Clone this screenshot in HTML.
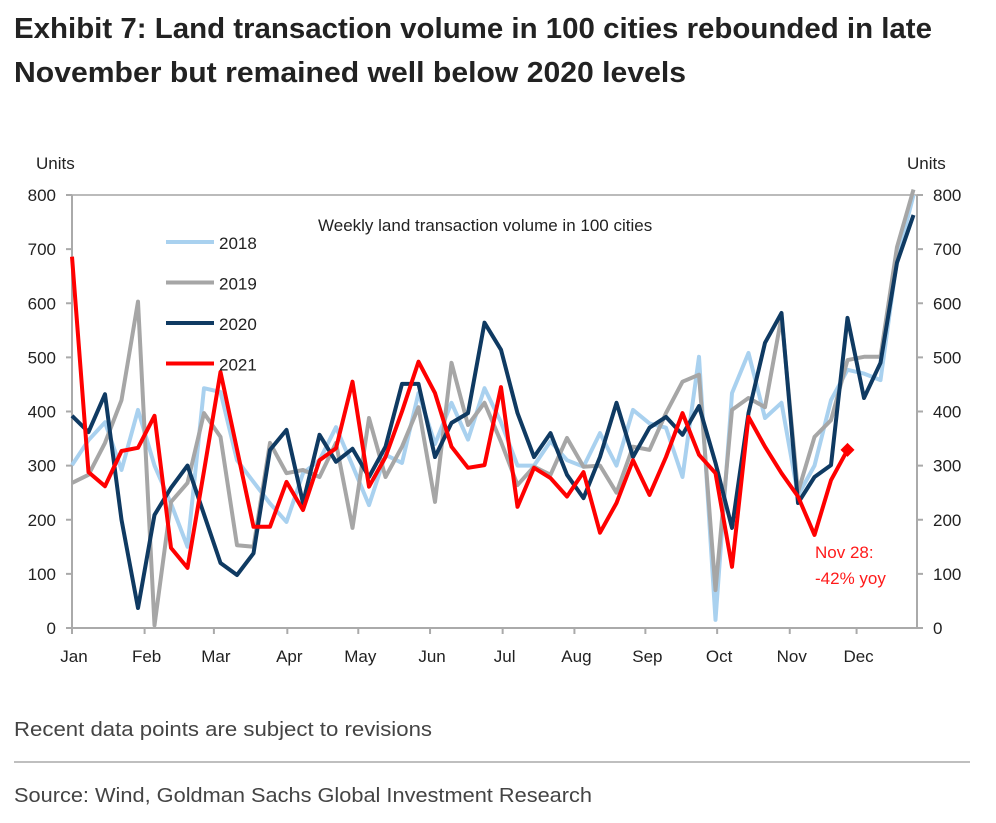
<!DOCTYPE html>
<html><head><meta charset="utf-8"><style>
html,body{margin:0;padding:0;background:#fff;}
svg{display:block;font-family:"Liberation Sans",sans-serif;}
</style></head><body>
<svg id="chart" width="996" height="823" viewBox="0 0 996 823">
<text x="14" y="38" font-size="29" font-weight="bold" fill="#222" textLength="918" lengthAdjust="spacingAndGlyphs">Exhibit 7: Land transaction volume in 100 cities rebounded in late</text>
<text x="14" y="82" font-size="29" font-weight="bold" fill="#222" textLength="672" lengthAdjust="spacingAndGlyphs">November but remained well below 2020 levels</text>
<text x="36" y="169" font-size="17" fill="#222">Units</text>
<text x="907" y="169" font-size="17" fill="#222">Units</text>
<text x="318" y="231" font-size="17" fill="#222">Weekly land transaction volume in 100 cities</text>
<g id="axes"></g>
<g id="series"></g>
<g id="legend"></g>
<text x="815" y="558" font-size="17" fill="#ff1a1a">Nov 28:</text>
<text x="815" y="584" font-size="17" fill="#ff1a1a">-42% yoy</text>
<text x="14" y="736" font-size="20" fill="#444" textLength="418" lengthAdjust="spacingAndGlyphs">Recent data points are subject to revisions</text>
<line x1="14" y1="762" x2="970" y2="762" stroke="#999" stroke-width="1.2"/>
<text x="14" y="802" font-size="20" fill="#444" textLength="578" lengthAdjust="spacingAndGlyphs">Source: Wind, Goldman Sachs Global Investment Research</text>
</svg>
<script>
const yTicks = [0,100,200,300,400,500,600,700,800];
const months = ["Jan","Feb","Mar","Apr","May","Jun","Jul","Aug","Sep","Oct","Nov","Dec"];
const monthWeeks = [0,4.4,8.6,13.05,17.35,21.7,26.1,30.45,34.75,39.1,43.5,47.55];
const s2018 = [301,347,380,292,403,300,230,150,443,436,310,270,230,196,286,310,371,300,227,320,305,434,340,416,348,443,380,300,300,345,310,298,360,300,403,378,370,279,501,15,434,508,388,416,245,300,421,477,470,458,680,800];
const s2019 = [268,283,342,421,603,5,233,268,397,353,153,150,342,286,292,279,342,185,388,279,335,408,233,490,375,416,344,264,298,283,351,298,300,250,335,329,397,455,468,70,403,425,408,575,251,353,384,495,501,501,704,810];
const s2020 = [392,362,432,200,37,209,259,300,210,120,98,138,329,366,231,357,307,331,279,335,451,451,316,379,397,564,514,397,316,360,283,240,316,416,316,370,390,357,410,305,185,397,527,582,231,279,301,573,425,490,675,763];
const s2021 = [686,288,262,327,333,392,148,111,290,473,330,187,187,270,218,310,332,455,261,316,400,492,434,335,296,301,445,224,296,277,243,288,176,231,310,246,316,397,320,286,113,390,335,286,243,172,273,329];
const seriesNames = ["2018","2019","2020","2021"];
const seriesColors = ["#a9d1ef","#a6a6a6","#0f3a62","#ff0000"];
const allSeries = [s2018,s2019,s2020,s2021];

const X0=72, X1=917, Y0=628, Y1=195, WEEK=16.5;
const xs = w => X0 + w*WEEK;
const ys = v => Y0 - (v/800)*(Y0-Y1);
const NS="http://www.w3.org/2000/svg";
function mk(tag, attrs, parent){const e=document.createElementNS(NS,tag);for(const k in attrs)e.setAttribute(k,attrs[k]);parent.appendChild(e);return e;}

const axes=document.getElementById('axes');
let e;
e=mk('line',{x1:X0,y1:Y1,x2:X1,y2:Y1,stroke:'#bbb','stroke-width':2},axes);


e=mk('line',{x1:X0,y1:Y1,x2:X0,y2:Y0,stroke:'#aaa','stroke-width':2},axes);


e=mk('line',{x1:X1,y1:Y1,x2:X1,y2:Y0,stroke:'#aaa','stroke-width':2},axes);


e=mk('line',{x1:X0,y1:Y0,x2:X1,y2:Y0,stroke:'#aaa','stroke-width':2},axes);


yTicks.forEach(t=>{
  const y=ys(t);
  e=mk('line',{x1:X0-6,y1:y,x2:X0,y2:y,stroke:'#aaa','stroke-width':2},axes);
  
  
  e=mk('line',{x1:X1,y1:y,x2:X1+6,y2:y,stroke:'#aaa','stroke-width':2},axes);
  
  
  e=mk('text',{x:56,y:y+6,'font-size':17,fill:'#222','text-anchor':'end'},axes);e.textContent=t;
  
  
  e=mk('text',{x:933,y:y+6,'font-size':17,fill:'#222'},axes);e.textContent=t;
  
  
});
months.forEach((m,i)=>{
  const x=xs(monthWeeks[i]);
  e=mk('line',{x1:x,y1:Y0,x2:x,y2:Y0+6,stroke:'#aaa','stroke-width':2},axes);
  
  
  e=mk('text',{x:x+2,y:662,'font-size':17,fill:'#222','text-anchor':'middle'},axes);e.textContent=m;
  
  
});

const sg=document.getElementById('series');
allSeries.forEach((s,k)=>{
  const pts=s.map((v,i)=>xs(i).toFixed(1)+','+ys(v).toFixed(1)).join(' ');
  e=mk('polyline',{points:pts,fill:'none',stroke:seriesColors[k],'stroke-width':4,'stroke-linejoin':'round'},sg);
  
  
});
const li=s2021.length-1, lx=xs(li), ly=ys(s2021[li]);
e=mk('polygon',{points:`${lx},${ly-7} ${lx+7},${ly} ${lx},${ly+7} ${lx-7},${ly}`,fill:'#ff0000'},sg);



const lg=document.getElementById('legend');
seriesNames.forEach((n,k)=>{
  const y=242+k*40.5;
  e=mk('line',{x1:166,y1:y,x2:214,y2:y,stroke:seriesColors[k],'stroke-width':4},lg);
  
  
  e=mk('text',{x:219,y:y+7,'font-size':17,fill:'#222'},lg);e.textContent=n;
  
  
});
</script>
</body></html>
